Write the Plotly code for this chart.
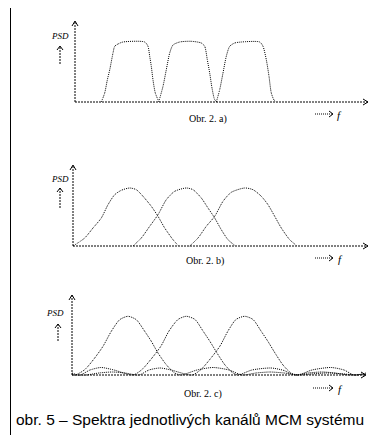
import plotly.graph_objects as go

W, H = 387, 435

# ---------------- data (x, y in plot units) ----------------
# Panel a) - flat-topped channel spectra
a1_x = [26.3, 29.7, 32.3, 34.7, 38.0, 39.7, 43.0, 48.0, 69.7, 73.0, 74.7, 76.3, 78.0, 80.3, 83.7]
a1_y = [0.0, 9.0, 22.0, 32.0, 49.0, 55.7, 58.0, 60.0, 60.0, 55.7, 45.7, 35.7, 22.0, 9.0, 0.7]
a2_x = [83.7, 88.0, 91.3, 94.7, 98.0, 104.7, 116.3, 126.3, 129.7, 132.3, 134.7, 137.0, 139.7, 142.3]
a2_y = [0.0, 15.7, 32.3, 49.0, 57.0, 60.0, 60.7, 59.0, 55.7, 42.3, 29.0, 14.0, 2.3, 0.0]
a3_x = [141.3, 144.7, 148.0, 151.3, 154.7, 159.7, 166.3, 184.7, 188.0, 191.3, 194.0, 196.3, 199.0, 201.3]
a3_y = [0.0, 12.3, 29.0, 45.7, 55.7, 59.0, 60.0, 60.0, 55.7, 42.3, 25.7, 9.0, 2.0, 0.0]

# Panel b) - overlapping raised-cosine-like spectra
b1_x = [0.0, 11.7, 20.0, 28.3, 35.0, 41.7, 48.3, 56.7, 63.3, 70.0, 78.3, 85.0, 91.7, 100.0, 105.0]
b1_y = [0.0, 8.0, 18.0, 28.0, 41.3, 51.3, 55.7, 58.0, 56.3, 49.7, 39.7, 29.7, 18.0, 6.3, 0.7]
b2_x = [60.0, 68.3, 76.7, 85.0, 93.3, 101.7, 113.3, 120.0, 128.3, 135.0, 141.7, 148.3, 155.0, 161.7]
b2_y = [0.0, 8.0, 19.7, 31.3, 46.3, 54.7, 58.0, 56.3, 48.0, 38.0, 28.0, 16.3, 6.3, 0.7]
b3_x = [116.7, 125.0, 133.3, 141.7, 150.0, 158.3, 171.7, 180.0, 188.3, 195.0, 201.7, 208.3, 216.7, 223.3]
b3_y = [0.0, 8.0, 19.7, 29.7, 44.7, 53.7, 58.0, 56.3, 49.7, 41.3, 29.7, 18.0, 6.3, 0.7]

# Panel c) - sinc-like spectra with side lobes
c1_x = [0, 3, 12.7, 22.7, 31, 39.3, 47.7, 56, 64.3, 72.7, 79.3, 86, 94.3, 102.7, 109,
        125, 141, 157, 170, 184, 198, 212, 227, 241, 255, 270, 284, 294]
c1_y = [1, 0, 5.3, 17, 28.7, 43.7, 55.3, 58.7, 55.3, 43.7, 33.7, 22, 10.3, 2, 0,
        5, 7.5, 5, 0, 2, 3, 2, 0, 1.2, 2, 1.2, 0, 0.5]
c2_x = [0, 8, 18, 29, 42, 61, 70, 80, 89, 97, 106, 114.3, 123, 131, 138, 145, 153, 161, 166,
        180, 199, 212, 222, 236, 250, 263, 277, 294]
c2_y = [2, 0, 5, 7.5, 5, 0, 5.5, 17, 29, 44, 55.5, 58.7, 55.5, 44, 33.5, 22, 10, 2, 0,
        5, 7, 4.5, 0, 2, 3, 2, 0, 1]
c3_x = [0, 14, 27, 40, 53, 67, 77, 88, 99, 120, 129, 139, 148, 156, 164, 172.7, 181, 189,
        196, 203, 211, 219, 226, 240, 259, 272, 282, 294]
c3_y = [0, 0, 2, 3, 2, 0, 5, 7, 5, 0, 5.5, 17, 29, 44, 55.5, 58.7, 55.5, 44,
        33.5, 22, 10, 2, 0, 5, 7.5, 5, 0, 2]

panel_labels = ["Obr. 2. a)", "Obr. 2. b)", "Obr. 2. c)"]
y_label = "PSD"
x_label = "f"
caption = "obr. 5 – Spektra jednotlivých kanálů MCM systému"

# ---------------- layout helpers ----------------
def px(x):
    return x / W

def py(y):
    return 1 - y / H

panels = [
    dict(ox=67, oy=94, ytop=81, xend=293, dash="1px,1px",
         curves=[(a1_x, a1_y), (a2_x, a2_y), (a3_x, a3_y)],
         psd=(52, 28), arr=(52, 56, 38), obr=(200, 111), farr=(307, 322, 106), f=(331, 107)),
    dict(ox=65, oy=238, ytop=81, xend=295, dash="1px,1px",
         curves=[(b1_x, b1_y), (b2_x, b2_y), (b3_x, b3_y)],
         psd=(52, 171), arr=(52, 200, 180), obr=(197, 253), farr=(307, 322, 250), f=(332, 251)),
    dict(ox=64, oy=367, ytop=80, xend=294, dash="1px,1px",
         curves=[(c1_x, c1_y), (c2_x, c2_y), (c3_x, c3_y)],
         psd=(47, 305), arr=(50, 333, 316), obr=(195, 386), farr=(305, 322, 380), f=(332, 381)),
]

fig = go.Figure()
shapes = []
annotations = []
layout_axes = {}

for i, p in enumerate(panels):
    n = "" if i == 0 else str(i + 1)
    xa, ya = "x" + n, "y" + n
    ox, oy = p["ox"], p["oy"]
    layout_axes["xaxis" + n] = dict(domain=[px(ox - 6), px(ox + 300)], range=[-6, 300],
                                   visible=False, fixedrange=True, anchor=ya)
    layout_axes["yaxis" + n] = dict(domain=[py(oy + 4), py(oy - 86)], range=[-4, 86],
                                   visible=False, fixedrange=True, anchor=xa)
    for cx, cy in p["curves"]:
        fig.add_trace(go.Scatter(
            x=cx, y=cy, xaxis=xa, yaxis=ya, mode="lines",
            line=dict(color="black", width=1, dash=p["dash"], shape="spline", smoothing=0.7),
            hoverinfo="skip", showlegend=False))
    ax_line = dict(color="black", width=1, dash="2px,1px")
    shapes.append(dict(type="line", xref=xa, yref=ya, x0=0, y0=0, x1=0, y1=p["ytop"], line=ax_line))
    shapes.append(dict(type="line", xref=xa, yref=ya, x0=0, y0=0, x1=p["xend"], y1=0, line=ax_line))
    t = p["ytop"]
    shapes.append(dict(type="path", xref=xa, yref=ya,
                       path=f"M -3,{t-5} L 0,{t} L 3,{t-5}", line=dict(color="black", width=1)))
    e = p["xend"]
    shapes.append(dict(type="path", xref=xa, yref=ya,
                       path=f"M {e-5},3 L {e},0 L {e-5},-3", line=dict(color="black", width=1)))
    annotations.append(dict(x=px(p["psd"][0]), y=py(p["psd"][1]), xref="paper", yref="paper",
                            text=f"<i>{y_label}</i>", showarrow=False, xanchor="center", yanchor="middle",
                            font=dict(family="Liberation Serif", size=9, color="black")))
    axx, ay0, ay1 = p["arr"]
    shapes.append(dict(type="line", xref="paper", yref="paper", x0=px(axx), y0=py(ay0),
                       x1=px(axx), y1=py(ay1), line=dict(color="black", width=1, dash="2px,1px")))
    shapes.append(dict(type="path", xref="paper", yref="paper",
                       path=f"M {px(axx-3)},{py(ay1+4)} L {px(axx)},{py(ay1)} L {px(axx+3)},{py(ay1+4)}",
                       line=dict(color="black", width=1)))
    annotations.append(dict(x=px(p["obr"][0]), y=py(p["obr"][1]), xref="paper", yref="paper",
                            text=panel_labels[i], showarrow=False, xanchor="center", yanchor="middle",
                            font=dict(family="Liberation Serif", size=10, color="black")))
    fx0, fx1, fy = p["farr"]
    shapes.append(dict(type="line", xref="paper", yref="paper", x0=px(fx0), y0=py(fy),
                       x1=px(fx1 + 2), y1=py(fy), line=dict(color="black", width=1, dash="1px,1px")))
    shapes.append(dict(type="path", xref="paper", yref="paper",
                       path=f"M {px(fx1-1)},{py(fy-3)} L {px(fx1+3)},{py(fy)} L {px(fx1-1)},{py(fy+3)}",
                       line=dict(color="black", width=1)))
    annotations.append(dict(x=px(p["f"][0]), y=py(p["f"][1]), xref="paper", yref="paper",
                            text=f"<i>{x_label}</i>", showarrow=False, xanchor="center", yanchor="middle",
                            font=dict(family="Liberation Serif", size=11, color="black")))

annotations.append(dict(x=px(6), y=py(411), xref="paper", yref="paper", text=caption,
                        showarrow=False, xanchor="left", yanchor="middle",
                        font=dict(family="Liberation Sans", size=15.5, color="black")))

frame = dict(color="black", width=1)
shapes.append(dict(type="line", xref="paper", yref="paper", x0=px(2.5), y0=1.05, x1=px(2.5), y1=py(430.5), line=frame))
shapes.append(dict(type="line", xref="paper", yref="paper", x0=px(383.5), y0=1.05, x1=px(383.5), y1=py(430.5), line=frame))
shapes.append(dict(type="line", xref="paper", yref="paper", x0=px(2.5), y0=py(430.5), x1=px(383.5), y1=py(430.5), line=frame))

fig.update_layout(
    width=W, height=H, margin=dict(l=0, r=0, t=0, b=0),
    paper_bgcolor="white", plot_bgcolor="rgba(0,0,0,0)",
    shapes=shapes, annotations=annotations, showlegend=False,
    **layout_axes,
)

fig.write_html("out.html", config={"displayModeBar": False})
